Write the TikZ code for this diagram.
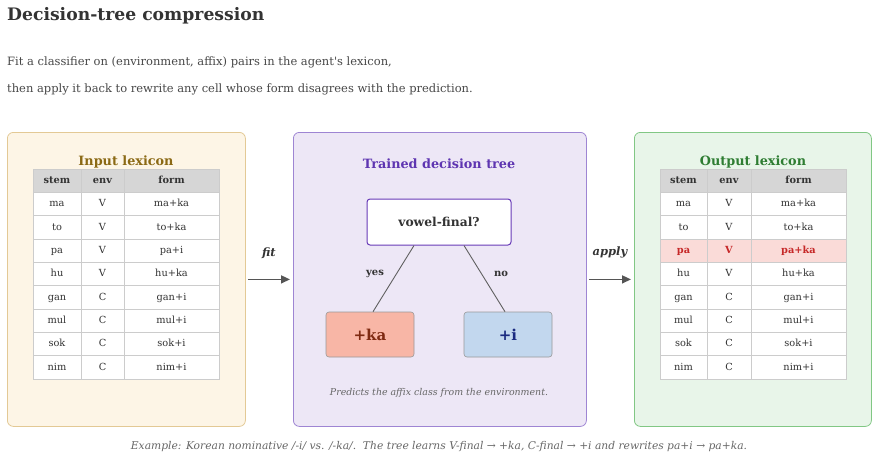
\documentclass[tikz,border=0pt]{standalone}
\usepackage{fontspec}
\setmainfont{DejaVu Serif}
\usetikzlibrary{positioning,arrows.meta}
\definecolor{txt}{HTML}{333333}
\definecolor{capgray}{HTML}{666666}
\definecolor{gridgray}{HTML}{CCCCCC}
\definecolor{hdrfill}{HTML}{D6D6D6}
\definecolor{infill}{HTML}{FDF5E6}
\definecolor{inbord}{HTML}{E3C995}
\definecolor{intitle}{HTML}{8B6914}
\definecolor{trfill}{HTML}{EDE7F6}
\definecolor{trbord}{HTML}{9E85D3}
\definecolor{trtitle}{HTML}{5E35B1}
\definecolor{qbord}{HTML}{673AB7}
\definecolor{kafill}{HTML}{F8B6A6}
\definecolor{katext}{HTML}{7F2A12}
\definecolor{ifill}{HTML}{C2D7EE}
\definecolor{itext}{HTML}{1A2A80}
\definecolor{outfill}{HTML}{E8F5E9}
\definecolor{outbord}{HTML}{81C784}
\definecolor{outtitle}{HTML}{2E7D32}
\definecolor{hifill}{HTML}{FADBD8}
\definecolor{hired}{HTML}{C62828}
\definecolor{arrgray}{HTML}{555555}
\newcommand\rowh{23.33}

\begin{document}
\begin{tikzpicture}[x=1pt,y=-1pt,
panel/.style={rounded corners=6pt,line width=0.8pt,inner sep=0,anchor=north west,minimum height=294pt},
ptitle/.style={font=\fontsize{12.8}{15}\selectfont\bfseries},
cell/.style={draw=gridgray,line width=0.6pt,inner sep=0,minimum height=\rowh pt,text height=0.75em,text depth=0.2em,text=txt,font=\fontsize{9.8}{12}\selectfont\rw},
hcell/.style={cell,fill=hdrfill,font=\fontsize{9.8}{12}\selectfont\bfseries},
leaf/.style={draw=gray!80,line width=0.6pt,rounded corners=3pt,minimum width=88pt,minimum height=45pt,font=\fontsize{15}{18}\selectfont\bfseries},
flow/.style={arrgray,line width=1.5pt,-{Triangle[length=9pt,width=8pt]}},
edge/.style={draw=gray!75!black,line width=0.9pt}
]
\useasboundingbox (0,0) rectangle (879,459);
\def\rw{}

% heading
\node[anchor=base west,inner sep=0,text=txt,font=\fontsize{17.2}{20}\selectfont\bfseries] (title) at (7,20) {Decision-tree compression};
\node[anchor=west,inner sep=0,text=txt!90,font=\fontsize{11.5}{14}\selectfont] (sub1) at (7,62) {Fit a classifier on (environment, affix) pairs in the agent\textquotesingle s lexicon,};
\node[anchor=west,inner sep=0,text=txt!90,font=\fontsize{11.5}{14}\selectfont] (sub2) at (7,89) {then apply it back to rewrite any cell whose form disagrees with the prediction.};

% panels
\node[panel,draw=inbord,fill=infill,minimum width=238pt] (inpanel) at (7,132) {};
\node[panel,draw=trbord,fill=trfill,minimum width=293pt] (trpanel) at (293,132) {};
\node[panel,draw=outbord,fill=outfill,minimum width=237pt] (outpanel) at (634,132) {};

\node[ptitle,text=intitle] (intit) at (126,162) {Input lexicon};
\node[ptitle,text=trtitle] (trtit) at (439,164) {Trained decision tree};
\node[ptitle,text=outtitle] (outtit) at (753,162) {Output lexicon};

% input table
\node[hcell,minimum width=48pt] (in-hs) at (57,169+\rowh/2) {stem};
\node[hcell,minimum width=43pt] (in-he) at (102.5,169+\rowh/2) {env};
\node[hcell,minimum width=95pt] (in-hf) at (171.5,169+\rowh/2) {form};
\foreach \s/\e/\f [count=\i] in {ma/V/ma+ka,to/V/to+ka,pa/V/pa+i,hu/V/hu+ka,gan/C/gan+i,mul/C/mul+i,sok/C/sok+i,nim/C/nim+i}
{
\node[cell,fill=white,minimum width=48pt] (in-s\i) at (57,169+\rowh*\i+\rowh/2) {\s};
\node[cell,fill=white,minimum width=43pt] (in-e\i) at (102.5,169+\rowh*\i+\rowh/2) {\e};
\node[cell,fill=white,minimum width=95pt] (in-f\i) at (171.5,169+\rowh*\i+\rowh/2) {\f};
}

% output table
\node[hcell,minimum width=47pt] (out-hs) at (683.5,169+\rowh/2) {stem};
\node[hcell,minimum width=44pt] (out-he) at (729,169+\rowh/2) {env};
\node[hcell,minimum width=95pt] (out-hf) at (798.5,169+\rowh/2) {form};
\foreach \s/\e/\f [count=\i] in {ma/V/ma+ka,to/V/to+ka,pa/V/pa+ka,hu/V/hu+ka,gan/C/gan+i,mul/C/mul+i,sok/C/sok+i,nim/C/nim+i}
{
\ifnum\i=3 \def\rf{hifill}\def\rt{hired}\def\rw{\bfseries}\else \def\rf{white}\def\rt{txt}\def\rw{}\fi
\node[cell,fill=\rf,text=\rt,minimum width=47pt] (out-s\i) at (683.5,169+\rowh*\i+\rowh/2) {\s};
\node[cell,fill=\rf,text=\rt,minimum width=44pt] (out-e\i) at (729,169+\rowh*\i+\rowh/2) {\e};
\node[cell,fill=\rf,text=\rt,minimum width=95pt] (out-f\i) at (798.5,169+\rowh*\i+\rowh/2) {\f};
}

% tree
\node[draw=qbord,fill=white,line width=1pt,rounded corners=3pt,minimum width=144pt,minimum height=46pt,text=txt,font=\fontsize{12.3}{14}\selectfont\bfseries] (q) at (439,222) {vowel-final?};
\node[leaf,fill=kafill,text=katext] (ka) at (370,334.5) {+ka};
\node[leaf,fill=ifill,text=itext] (ii) at (508,334.5) {+i};
\draw[edge] ([xshift=-25pt]q.south) -- ([xshift=3pt]ka.north);
\draw[edge] ([xshift=25pt]q.south) -- ([xshift=-3pt]ii.north);
\node[text=txt,font=\fontsize{10}{12}\selectfont\bfseries] (yes) at (375,274) {yes};
\node[text=txt,font=\fontsize{10}{12}\selectfont\bfseries] (no) at (501,274) {no};
\node[text=capgray,font=\fontsize{9.4}{11}\selectfont\itshape] (trcap) at (439,393) {Predicts the affix class from the environment.};

% flow arrows
\draw[flow] ([xshift=2pt]inpanel.east) -- ([xshift=-3pt]trpanel.west) node[midway,above=17pt,text=txt,font=\fontsize{11.5}{14}\selectfont\bfseries\itshape] (fit) {fit};
\draw[flow] ([xshift=2pt]trpanel.east) -- ([xshift=-3pt]outpanel.west) node[midway,above=17pt,text=txt,font=\fontsize{11.5}{14}\selectfont\bfseries\itshape] (apply) {apply};

\node[text=capgray,font=\fontsize{10.7}{13}\selectfont\itshape] (foot) at (439,447) {Example: Korean nominative /-i/ vs. /-ka/.\ \ The tree learns V-final → +ka, C-final → +i and rewrites pa+i → pa+ka.};
\end{tikzpicture}
\end{document}
